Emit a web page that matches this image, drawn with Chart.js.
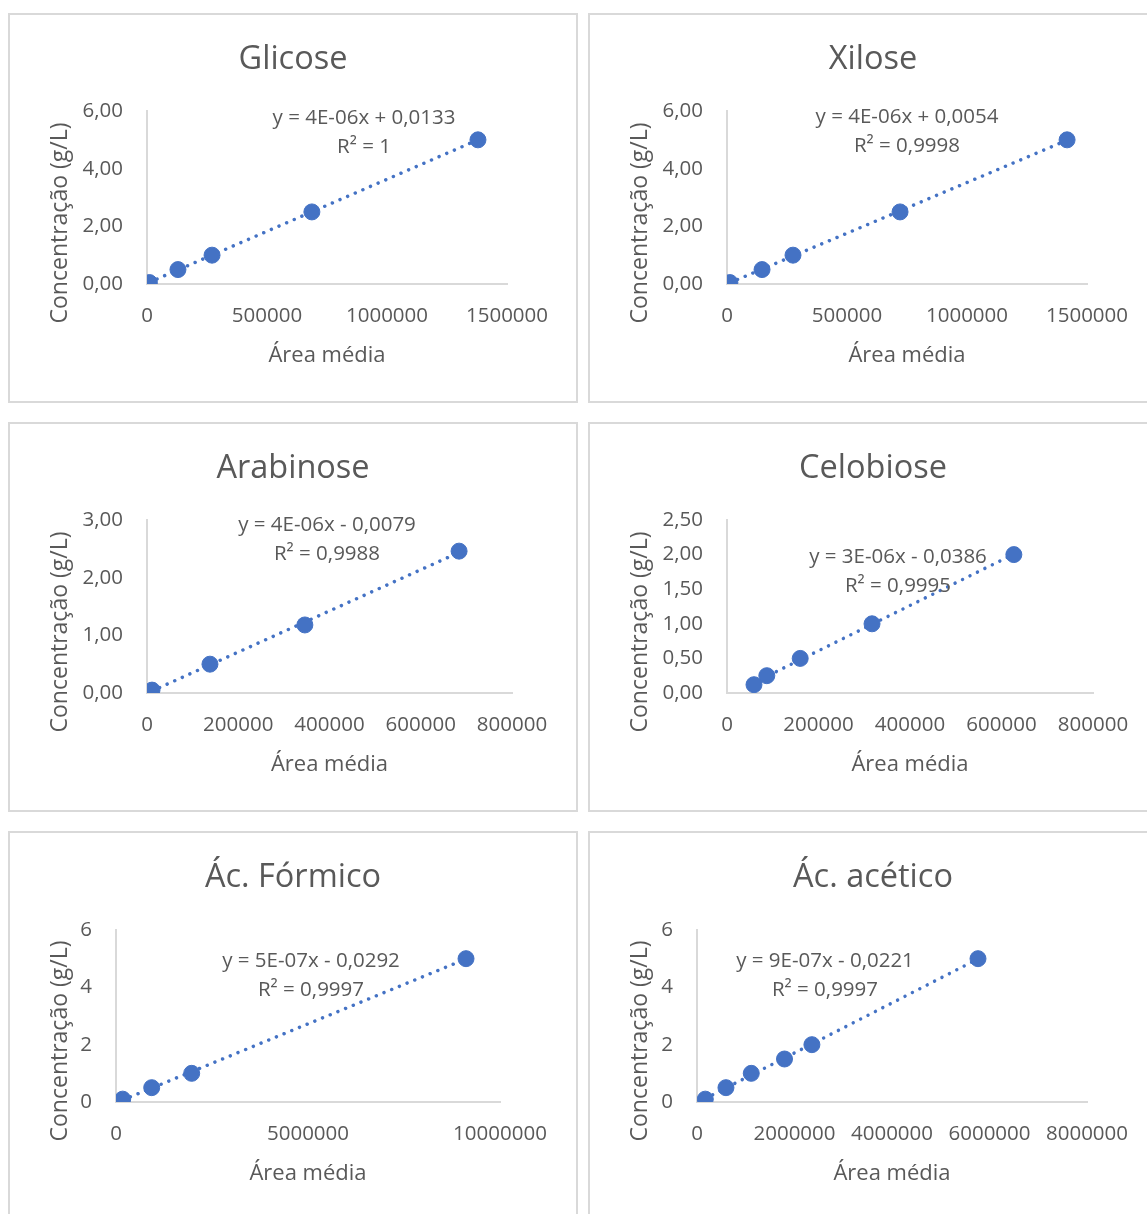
<!DOCTYPE html>
<html lang="pt-br">
<head>
<meta charset="UTF-8">
<title>Curvas de calibração</title>
<script src="https://cdn.jsdelivr.net/npm/chart.js"></script>
<style>
  body { margin: 0; background: #fff; }
  .painel { position: absolute; width: 570px; height: 390px; box-sizing: border-box; border: 2px solid #d9d9d9; }
  .painel canvas { position: absolute; left: -2px; top: -2px; }
</style>
</head>
<body>
<div class="painel" style="left:8px;top:13px"><canvas id="glicose" width="570" height="390"></canvas></div>
<div class="painel" style="left:588px;top:13px"><canvas id="xilose" width="570" height="390"></canvas></div>
<div class="painel" style="left:8px;top:422px"><canvas id="arabinose" width="570" height="390"></canvas></div>
<div class="painel" style="left:588px;top:422px"><canvas id="celobiose" width="570" height="390"></canvas></div>
<div class="painel" style="left:8px;top:831px"><canvas id="formico" width="570" height="390"></canvas></div>
<div class="painel" style="left:588px;top:831px"><canvas id="acetico" width="570" height="390"></canvas></div>

<script>
// pontos das curvas (área média x concentração g/L)
const areaGlicose = [10000, 129000, 271000, 687000, 1379000]
const concGlicose = [0.05, 0.5, 1.0, 2.5, 5.0]
const areaXilose = [12000, 146000, 275000, 721000, 1417000]
const concXilose = [0.05, 0.5, 1.0, 2.5, 5.0]
const areaArabinose = [11000, 138000, 346000, 684000]
const concArabinose = [0.05, 0.5, 1.18, 2.46]
const areaCelobiose = [59000, 87000, 160000, 317000, 627000]
const concCelobiose = [0.12, 0.25, 0.5, 1.0, 2.0]
const areaFormico = [174000, 930000, 1971000, 9115000]
const concFormico = [0.1, 0.5, 1.0, 5.0]
const areaAcetico = [170000, 594000, 1113000, 1795000, 2357000, 5764000]
const concAcetico = [0.1, 0.5, 1.0, 1.5, 2.0, 5.0]

// equações das linhas de tendência
const eqGlicose = ['y = 4E-06x + 0,0133', 'R² = 1']
const eqXilose = ['y = 4E-06x + 0,0054', 'R² = 0,9998']
const eqArabinose = ['y = 4E-06x - 0,0079', 'R² = 0,9988']
const eqCelobiose = ['y = 3E-06x - 0,0386', 'R² = 0,9995']
const eqFormico = ['y = 5E-07x - 0,0292', 'R² = 0,9997']
const eqAcetico = ['y = 9E-07x - 0,0221', 'R² = 0,9997']

// escalas: [max, passo]
const eixoXGlicose = [1500000, 500000]
const eixoXArabinose = [800000, 200000]
const eixoXFormico = [10000000, 5000000]
const eixoXAcetico = [8000000, 2000000]
const eixoY6 = [6, 2]
const eixoY3 = [3, 1]
const eixoY25 = [2.5, 0.5]

const cinza = '#595959'
const azul = '#4472C4'
const fonte = "'Open Sans', sans-serif"

// reta de mínimos quadrados entre o menor e o maior x
const tendencia = (xs, ys) => {
  const n = xs.length
  const mx = xs.reduce((a, b) => a + b, 0) / n
  const my = ys.reduce((a, b) => a + b, 0) / n
  let sxy = 0, sxx = 0
  for (let i = 0; i < n; i++) {
    sxy += (xs[i] - mx) * (ys[i] - my)
    sxx += (xs[i] - mx) * (xs[i] - mx)
  }
  const b = sxy / sxx
  const a = my - b * mx
  const x0 = Math.min(...xs), x1 = Math.max(...xs)
  return [{x: x0, y: a + b * x0}, {x: x1, y: a + b * x1}]
}

// título do gráfico, título do eixo Y e texto da equação
const textos = {
  id: 'textos',
  afterDraw(chart, args, opts) {
    const ctx = chart.ctx
    ctx.save()
    ctx.fillStyle = cinza
    ctx.textAlign = 'center'
    ctx.textBaseline = 'middle'

    ctx.font = `32.5px ${fonte}`
    ctx.fillText(opts.titulo, chart.width / 2, 47)

    ctx.font = `20.5px ${fonte}`
    opts.linhas.forEach((t, i) => ctx.fillText(t, opts.x, opts.y + i * 29.5))

    ctx.font = `23px ${fonte}`
    ctx.translate(52, 210)
    ctx.rotate(-Math.PI / 2)
    ctx.fillText('Concentração (g/L)', 0, 0)
    ctx.restore()
  }
}

const formata = (v, casas) => v.toFixed(casas).replace('.', ',')

const criaGrafico = (id, titulo, xs, ys, eq, eixoX, eixoY, casas, esq, dir, topo, posEq) => {
  const pontos = xs.map((x, i) => ({x: x, y: ys[i]}))
  return new Chart(document.getElementById(id), {
    type: 'scatter',
    data: {
      datasets: [{
        data: pontos,
        backgroundColor: azul,
        borderColor: azul,
        pointRadius: 8,
        pointBorderWidth: 1,
        order: 0
      }, {
        type: 'line',
        data: tendencia(xs, ys),
        borderColor: azul,
        borderWidth: 3.5,
        borderDash: [0.01, 8.3],
        borderCapStyle: 'round',
        pointRadius: 0,
        fill: false,
        order: 1
      }]
    },
    options: {
      responsive: false,
      animation: false,
      devicePixelRatio: 1,
      layout: { padding: { left: 0, right: 570 - dir, top: topo, bottom: 0 } },
      plugins: {
        legend: { display: false },
        tooltip: { enabled: false },
        title: { display: false },
        textos: { titulo: titulo, linhas: eq, x: posEq[0], y: posEq[1] }
      },
      scales: {
        x: {
          type: 'linear',
          min: 0,
          max: eixoX[0],
          afterFit: s => { s.height = 119 },
          grid: { display: false, drawTicks: false },
          border: { display: true, color: '#d9d9d9', width: 2 },
          ticks: {
            stepSize: eixoX[1],
            autoSkip: false,
            maxRotation: 0,
            padding: 20,
            color: cinza,
            font: { family: fonte, size: 20.5 },
            callback: v => String(v)
          },
          title: {
            display: true,
            text: 'Área média',
            color: cinza,
            font: { family: fonte, size: 22, lineHeight: 1.2 },
            padding: { top: 0, bottom: 33.8 }
          }
        },
        y: {
          min: 0,
          max: eixoY[0],
          afterFit: s => { s.width = esq },
          grid: { display: false, drawTicks: false },
          border: { display: true, color: '#d9d9d9', width: 2 },
          ticks: {
            stepSize: eixoY[1],
            padding: 24,
            color: cinza,
            font: { family: fonte, size: 20.5 },
            callback: v => formata(v, casas)
          }
        }
      }
    },
    plugins: [textos]
  })
}

criaGrafico('glicose', 'Glicose', areaGlicose, concGlicose, eqGlicose, eixoXGlicose, eixoY6, 2, 139, 499, 98, [356, 105])
criaGrafico('xilose', 'Xilose', areaXilose, concXilose, eqXilose, eixoXGlicose, eixoY6, 2, 139, 499, 98, [319, 104])
criaGrafico('arabinose', 'Arabinose', areaArabinose, concArabinose, eqArabinose, eixoXArabinose, eixoY3, 2, 139, 504, 98, [319, 103])
criaGrafico('celobiose', 'Celobiose', areaCelobiose, concCelobiose, eqCelobiose, eixoXArabinose, eixoY25, 2, 139, 505, 98, [310, 135])
criaGrafico('formico', 'Ác. Fórmico', areaFormico, concFormico, eqFormico, eixoXFormico, eixoY6, 0, 108, 492, 99, [303, 130])
criaGrafico('acetico', 'Ác. acético', areaAcetico, concAcetico, eqAcetico, eixoXAcetico, eixoY6, 0, 109, 499, 99, [237, 130])
</script>
</body>
</html>
